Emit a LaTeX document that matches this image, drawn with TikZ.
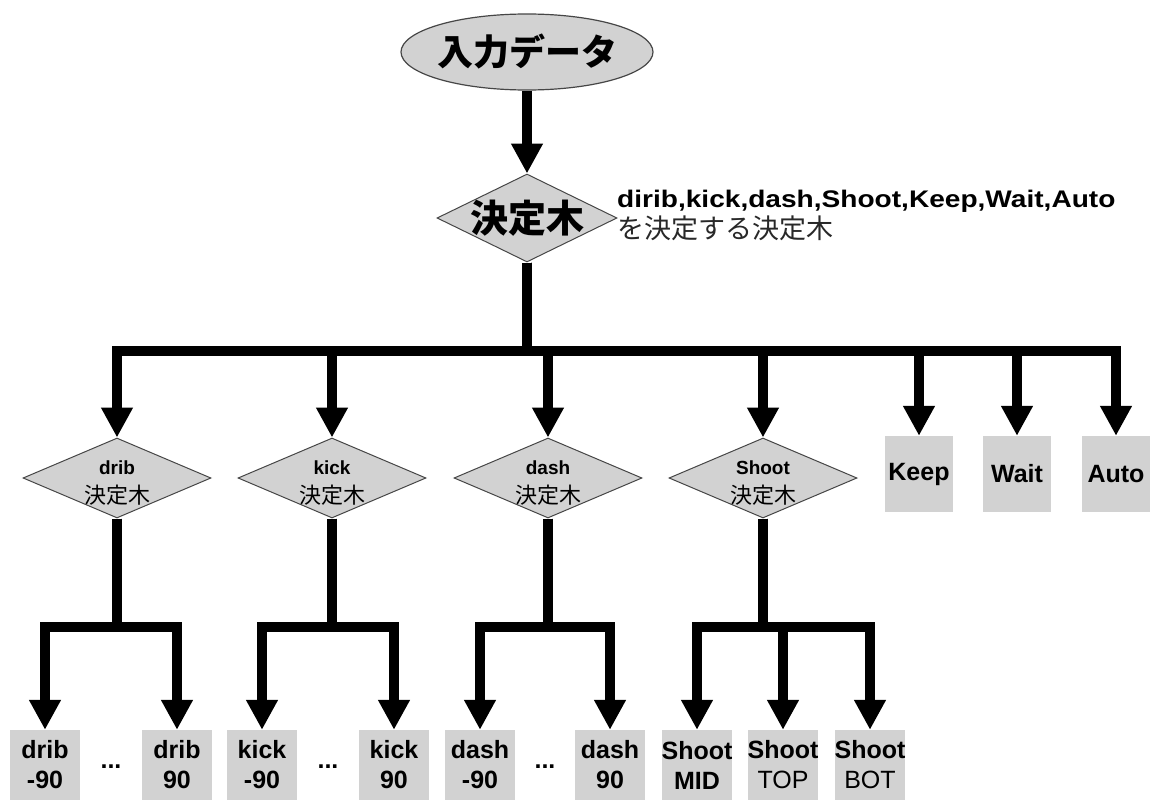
\documentclass[tikz,border=0pt]{standalone}
\usepackage{fontspec}
\setmainfont{Liberation Sans}
\newfontfamily\jp{Noto Sans CJK JP}
\newfontfamily\widebf{Liberation Sans Bold}[FakeStretch=1.17]
\usetikzlibrary{arrows.meta,shapes.geometric}
\definecolor{fillgray}{RGB}{210,210,210}
\definecolor{edgegray}{RGB}{70,70,70}
\definecolor{textgray}{RGB}{40,40,40}
\begin{document}
\begin{tikzpicture}[x=1pt,y=-1pt,
  conn/.style={line width=9.5pt, line join=miter, draw=black},
  arr/.style={conn, -{Triangle[length=30pt,width=30pt]}},
  dia/.style={shape=diamond, draw=edgegray, line width=1pt, fill=fillgray, inner sep=0pt},
  subdia/.style={dia, minimum width=188pt, minimum height=80pt},
  sublbl/.style={align=center, font=\fontsize{19}{29}\selectfont, inner sep=0pt, yshift=-5pt},
  leaf/.style={shape=rectangle, fill=fillgray, inner sep=0pt, minimum width=70pt,
    minimum height=70pt, align=center, font=\fontsize{25}{30}\selectfont\bfseries},
  action/.style={shape=rectangle, fill=fillgray, inner sep=0pt, minimum width=68pt,
    minimum height=76pt, font=\fontsize{25}{30}\selectfont\bfseries},
  dots/.style={inner sep=0pt, font=\fontsize{25}{30}\selectfont\bfseries}
]
\useasboundingbox[fill=white] (0,0) rectangle (1152,800);

% top ellipse
\node[shape=ellipse, draw=edgegray, line width=1.2pt, fill=fillgray, inner sep=0pt,
  minimum width=252pt, minimum height=76pt,
  label={[inner sep=0pt, font=\fontsize{36}{40}\selectfont\jp\bfseries]center:入力データ}]
  (input) at (527,52) {};

% main decision tree
\node[dia, minimum width=180pt, minimum height=88pt,
  label={[inner sep=0pt, font=\fontsize{38}{42}\selectfont\jp\bfseries]center:決定木}]
  (main) at (527,218) {};

\node[anchor=base west, inner sep=0pt, font=\fontsize{24}{28}\selectfont\widebf]
  (desc1) at (617,207) {dirib,kick,dash,Shoot,Keep,Wait,Auto};
\node[anchor=west, inner sep=0pt, text=textgray, font=\fontsize{27}{30}\selectfont\jp]
  (desc2) at (617,228) {を決定する決定木};

% second level
\node[subdia, label={[sublbl]center:{\bfseries drib\\{\jp\fontsize{22}{29}\selectfont 決定木}}}] (drib) at (117,478) {};
\node[subdia, label={[sublbl]center:{\bfseries kick\\{\jp\fontsize{22}{29}\selectfont 決定木}}}] (kick) at (332,478) {};
\node[subdia, label={[sublbl]center:{\bfseries dash\\{\jp\fontsize{22}{29}\selectfont 決定木}}}] (dash) at (548,478) {};
\node[subdia, label={[sublbl]center:{\bfseries Shoot\\{\jp\fontsize{22}{29}\selectfont 決定木}}}] (shoot) at (763,478) {};
\node[action] (keep) at (919,474) {Keep};
\node[action] (wait) at (1017,474) {Wait};
\node[action] (auto) at (1116,474) {Auto};

% leaves
\node[leaf] (dribm) at (45,765) {drib\\-90};
\node[leaf] (dribp) at (177,765) {drib\\90};
\node[leaf] (kickm) at (262,765) {kick\\-90};
\node[leaf] (kickp) at (394,765) {kick\\90};
\node[leaf] (dashm) at (480,765) {dash\\-90};
\node[leaf] (dashp) at (610,765) {dash\\90};
\node[leaf] (smid) at (697,765) {Shoot\\MID};
\node[leaf] (stop) at (783,765) {Shoot\\{\mdseries TOP}};
\node[leaf] (sbot) at (870,765) {Shoot\\{\mdseries BOT}};

\node[dots] (dotsd) at (111,767) {...};
\node[dots] (dotsk) at (328,767) {...};
\node[dots] (dotsh) at (545,767) {...};

% junctions
\coordinate (j0) at (527,351);
\coordinate (jd) at (117,627);
\coordinate (jk) at (332,627);
\coordinate (jh) at (548,627);
\coordinate (js) at (763,627);

% connectors
\draw[arr] (input.south) -- (main.north);
\foreach \t in {drib,kick,dash,shoot,keep,wait,auto}
  \draw[arr] (main.south) -- (j0) -| (\t.north);
\foreach \t in {dribm,dribp} \draw[arr] (drib.south) -- (jd) -| (\t.north);
\foreach \t in {kickm,kickp} \draw[arr] (kick.south) -- (jk) -| (\t.north);
\foreach \t in {dashm,dashp} \draw[arr] (dash.south) -- (jh) -| (\t.north);
\foreach \t in {smid,stop,sbot} \draw[arr] (shoot.south) -- (js) -| (\t.north);
\end{tikzpicture}
\end{document}
